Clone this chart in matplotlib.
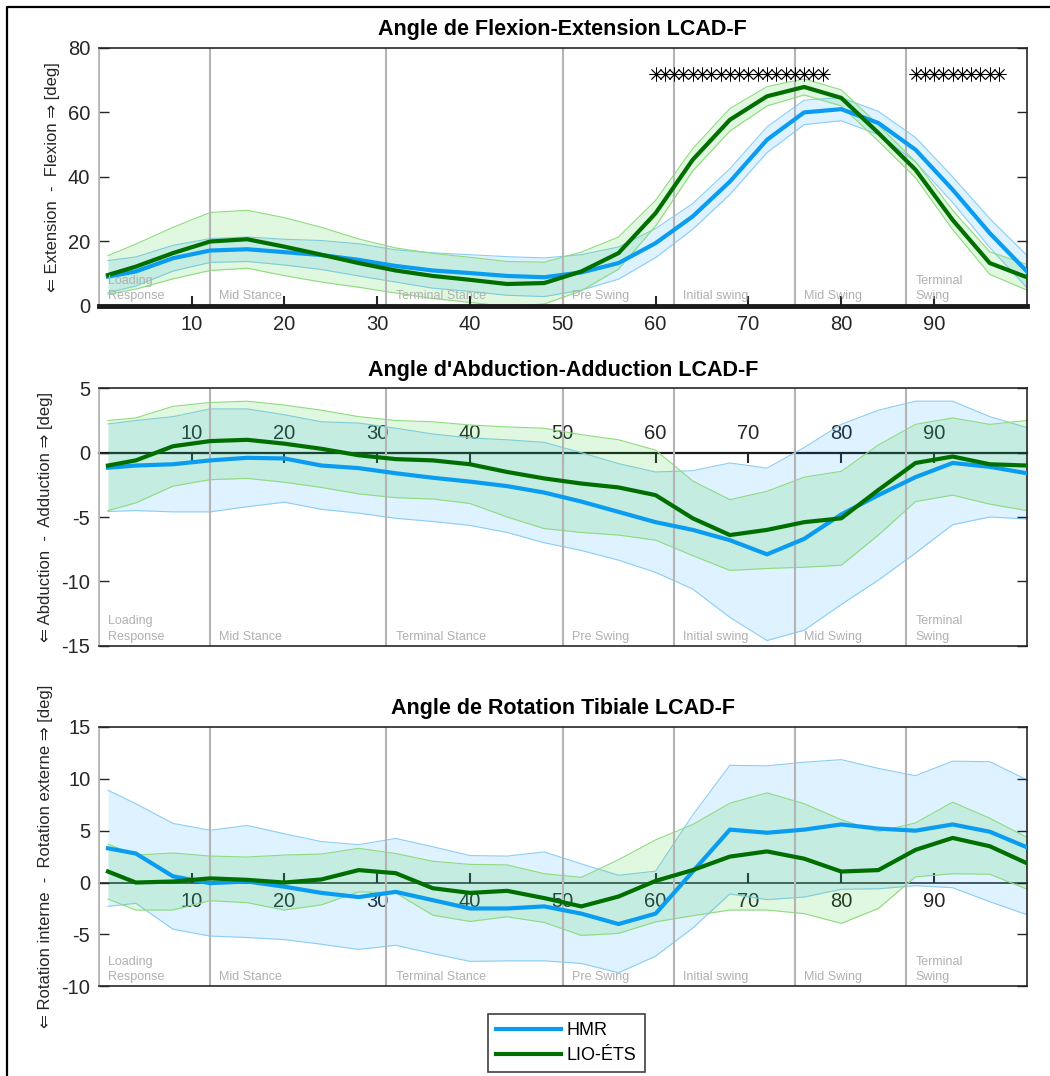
import matplotlib
matplotlib.use('Agg')
import matplotlib.pyplot as plt
from matplotlib.lines import Line2D
import numpy as np

plt.rcParams['font.family'] = ['Liberation Sans', 'DejaVu Sans']
plt.rcParams['axes.unicode_minus'] = False

# % of gait cycle where the curves were read
frames = [1, 4, 8, 12, 16, 20, 24, 28, 32, 36, 40, 44, 48, 52,
          56, 60, 64, 68, 72, 76, 80, 84, 88, 92, 96, 100]

# Flexion-Extension (mean, sd)
flex_hmr = [9.0, 10.6, 14.7, 17.1, 17.5, 16.6, 15.7, 14.2, 12.3, 10.9, 10.1, 9.2, 8.8, 10.3,
            13.2, 19.4, 27.7, 38.5, 51.5, 60.0, 61.0, 56.7, 48.4, 36.0, 22.5, 10.6]
flex_hmr_sd = [5, 4.5, 4, 3.7, 3.8, 4, 4.5, 5, 5, 5.5, 5.7, 6, 6, 5.5,
               5, 4.5, 4, 4, 4, 3.8, 3.6, 3.6, 3.8, 4, 4.5, 5]
flex_lio = [9.5, 12.1, 16.3, 19.9, 20.6, 18.3, 15.8, 13.2, 10.9, 9.2, 8.0, 6.7, 7.0, 10.6,
            16.3, 28.7, 45.3, 57.7, 65.0, 67.9, 64.5, 53.6, 42.2, 26.6, 13.2, 8.8]
flex_lio_sd = [6, 7, 8, 9, 9, 9, 8.5, 7.5, 7, 7, 7, 7, 6.5, 6,
               5, 4, 3.5, 3.5, 3, 2.5, 2.5, 2.5, 2.5, 3, 3.5, 4]

# Abduction-Adduction
abd_hmr = [-1.17, -1.0, -0.9, -0.6, -0.4, -0.45, -1.0, -1.2, -1.6, -1.95, -2.25, -2.6, -3.1, -3.8,
           -4.6, -5.4, -6.0, -6.8, -7.9, -6.7, -4.8, -3.3, -1.9, -0.8, -1.1, -1.6]
abd_hmr_sd = [3.4, 3.5, 3.7, 4, 3.8, 3.4, 3.4, 3.5, 3.5, 3.4, 3.4, 3.6, 3.9, 3.8,
              3.75, 3.9, 4.6, 6, 6.7, 7.1, 7, 6.6, 5.9, 4.8, 3.9, 3.55]
abd_lio = [-1.0, -0.6, 0.5, 0.9, 1.0, 0.7, 0.3, -0.2, -0.5, -0.6, -0.9, -1.5, -2.0, -2.4,
           -2.7, -3.3, -5.1, -6.4, -6.0, -5.4, -5.1, -2.9, -0.8, -0.3, -0.9, -1.0]
abd_lio_sd = [3.5, 3.3, 3.1, 3, 3, 3, 3, 3, 3, 3, 3.05, 3.5, 3.9, 3.8,
              3.7, 3.5, 2.9, 2.75, 3, 3.5, 3.65, 3.5, 3, 3, 3.1, 3.5]

# Tibial rotation
rot_hmr = [3.3, 2.8, 0.6, -0.06, 0.1, -0.4, -1.0, -1.4, -0.9, -1.7, -2.5, -2.5, -2.3, -3.0,
           -4.0, -3.0, 1.06, 5.1, 4.8, 5.1, 5.6, 5.2, 5.0, 5.6, 4.9, 3.4]
rot_hmr_sd = [5.6, 4.8, 5.1, 5.1, 5.4, 5.1, 4.95, 5.05, 5.15, 5.15, 5.1, 5.05, 5.25, 4.8,
              4.7, 4.1, 5.45, 6.2, 6.45, 6.5, 6.25, 5.8, 5.3, 6.1, 6.75, 6.5]
rot_lio = [1.06, 0.0, 0.1, 0.4, 0.26, 0.0, 0.3, 1.2, 0.9, -0.55, -1.0, -0.8, -1.5, -2.3,
           -1.35, 0.16, 1.2, 2.5, 3.0, 2.3, 1.06, 1.2, 3.15, 4.3, 3.5, 1.86]
rot_lio_sd = [2.65, 2.65, 2.75, 2.15, 2.2, 2.65, 2.45, 2.1, 1.9, 2.6, 2.75, 2.5, 2.35, 2.8,
              3.55, 3.95, 4.4, 5.15, 5.65, 5.3, 5.0, 3.7, 2.6, 3.45, 2.7, 2.5]

# significant frames (asterisks) on flexion panel
sig_frames = [60, 61, 62, 63, 64, 65, 66, 67, 68, 69, 70, 71, 72, 73, 74, 75, 76, 77, 78,
              88, 89, 90, 91, 92, 93, 94, 95, 96, 97]
sig_level = 72

phase_starts = [0, 12, 31, 50, 62, 75, 87]
phase_names = ['Loading\nResponse', 'Mid Stance', 'Terminal Stance', 'Pre Swing',
               'Initial swing', 'Mid Swing', 'Terminal\nSwing']

xticks = [10, 20, 30, 40, 50, 60, 70, 80, 90]

panels = [
    ("Angle de Flexion-Extension LCAD-F", "\u21d0 Extension  -  Flexion \u21d2 [deg]",
     flex_hmr, flex_hmr_sd, flex_lio, flex_lio_sd, (0, 80), [0, 20, 40, 60, 80]),
    ("Angle d'Abduction-Adduction LCAD-F", "\u21d0 Abduction  -  Adduction \u21d2 [deg]",
     abd_hmr, abd_hmr_sd, abd_lio, abd_lio_sd, (-15, 5), [-15, -10, -5, 0, 5]),
    ("Angle de Rotation Tibiale LCAD-F", "\u21d0 Rotation interne  -  Rotation externe \u21d2 [deg]",
     rot_hmr, rot_hmr_sd, rot_lio, rot_lio_sd, (-10, 15), [-10, -5, 0, 5, 10, 15]),
]

blue = '#0a9cf0'
green = '#006f00'
axcol = '#262626'

fig = plt.figure(figsize=(10.5, 10.76), dpi=100)
positions = [[0.094, 0.716, 0.884, 0.2394],
             [0.094, 0.3999, 0.884, 0.2392],
             [0.094, 0.0834, 0.884, 0.241]]
label_x = [-0.042, -0.049, -0.049]

x = np.array(frames)
for i, (title, ylab, hm, hsd, lm, lsd, ylim, yticks) in enumerate(panels):
    ax = fig.add_axes(positions[i])
    hm, hsd, lm, lsd = map(np.array, (hm, hsd, lm, lsd))

    ax.fill_between(x, hm - hsd, hm + hsd, color='#00a0ff', alpha=0.13, lw=0, zorder=1)
    ax.plot(x, hm - hsd, color='#8ccdf5', lw=0.8, zorder=1)
    ax.plot(x, hm + hsd, color='#8ccdf5', lw=0.8, zorder=1)
    ax.fill_between(x, lm - lsd, lm + lsd, color='#33cc33', alpha=0.15, lw=0, zorder=1)
    ax.plot(x, lm - lsd, color='#8edb7e', lw=0.8, zorder=1)
    ax.plot(x, lm + lsd, color='#8edb7e', lw=0.8, zorder=1)
    ax.plot(x, hm, color=blue, lw=3, zorder=3, label='HMR')
    ax.plot(x, lm, color=green, lw=3, zorder=3, label='LIO-\u00c9TS')

    for p, name in zip(phase_starts, phase_names):
        ax.axvline(p, color='#b4b4b4', lw=1.5, zorder=2)
        ax.text(p + 1, 0.012, name, transform=ax.get_xaxis_transform(), fontsize=9,
                color='#b0b0b0', va='bottom', ha='left', linespacing=1.4)

    ax.set_xlim(0, 100)
    ax.set_ylim(*ylim)
    ax.set_yticks(yticks)
    ax.tick_params(axis='y', direction='in', length=7, width=1, labelsize=14.5,
                   right=True, colors=axcol, pad=6)
    for s in ax.spines.values():
        s.set_color(axcol)
        s.set_linewidth(1.2)
    ax.spines['left'].set_color('#b4b4b4')
    ax.set_title(title, fontsize=15.5, fontweight='bold', pad=9)
    ax.set_ylabel(ylab, fontsize=12, color=axcol)
    ax.yaxis.set_label_coords(label_x[i], 0.5)

    if i == 0:
        ax.set_xticks(xticks)
        ax.tick_params(axis='x', direction='in', length=7, width=1.5, labelsize=14.5,
                       colors=axcol, pad=7)
        ax.spines['bottom'].set_linewidth(3.5)
        ax.spines['bottom'].set_color('#1a1a1a')
        ax.plot(sig_frames, [sig_level] * len(sig_frames), ls='none', marker=(8, 2, 0),
                ms=10, mec='black', mew=0.6, zorder=4)
    else:
        ax.set_xticks([])
        frac = (0 - ylim[0]) / (ylim[1] - ylim[0])
        sec = ax.secondary_xaxis(frac)
        sec.set_xticks(xticks)
        sec.tick_params(direction='in', length=7, width=1.5, labelsize=14.5,
                        colors=axcol, pad=7)
        for s in sec.spines.values():
            s.set_color('#1a1a1a')
            s.set_linewidth(1.6 if i == 1 else 1.1)

handles = [Line2D([], [], color=blue, lw=3), Line2D([], [], color=green, lw=3)]
leg = fig.legend(handles, ['HMR', 'LIO-\u00c9TS'], loc='center', bbox_to_anchor=(0.5395, 0.0307),
                 fontsize=13, handlelength=3.6, handletextpad=0.3, borderpad=0.45,
                 labelspacing=0.45, fancybox=False, edgecolor='#404040', framealpha=1)
leg.get_frame().set_linewidth(1.2)

# outer frame (left and top edges visible)
fig.add_artist(Line2D([7 / 1050, 7 / 1050, 1.0], [0.0, 1 - 7 / 1076, 1 - 7 / 1076],
                      transform=fig.transFigure, color='black', lw=1.6))

fig.savefig('out.png', dpi=100)
